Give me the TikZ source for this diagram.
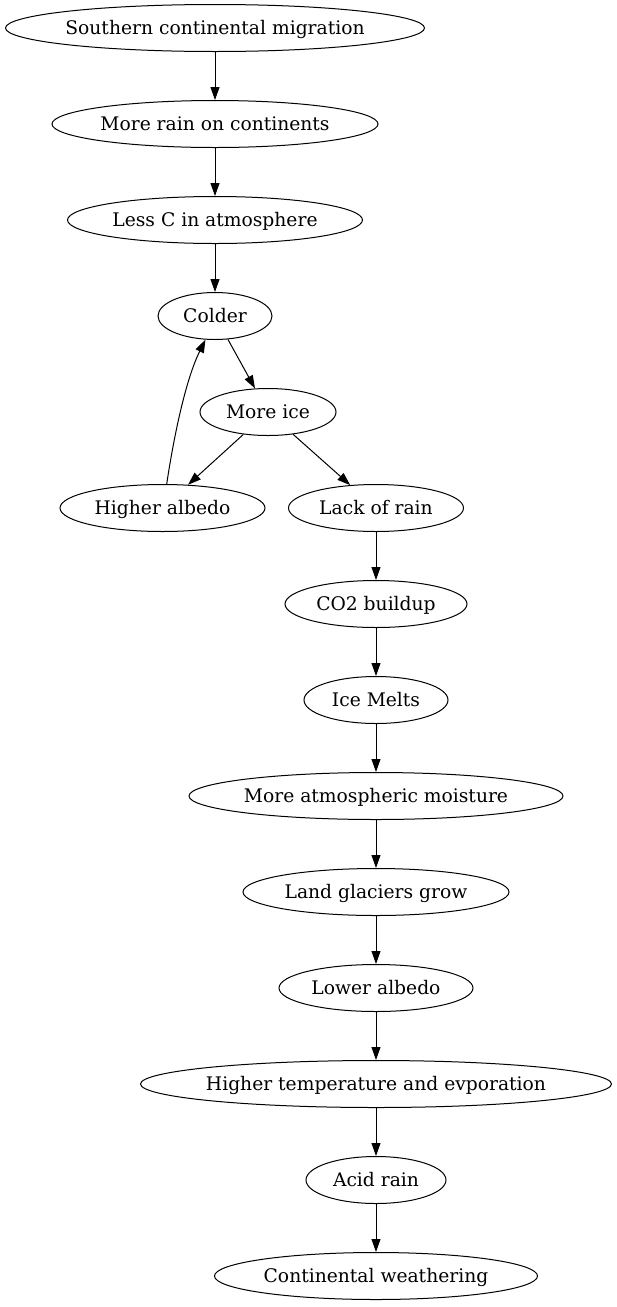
\documentclass[tikz,border=0pt]{standalone}
\usepackage{fontspec}
\setmainfont{DejaVu Serif}
\usetikzlibrary{shapes.geometric,arrows.meta}
\tikzset{
  el/.style={draw, ellipse, inner sep=0pt, minimum height=47pt, line width=1pt,
    text height=12pt, text depth=0pt,
    font=\fontsize{18.7}{22}\selectfont},
  arr/.style={line width=1pt, -{Triangle[length=13pt,width=9pt]}},
}
\newcommand{\nt}[1]{\makebox[0pt]{#1}}
\begin{document}
\begin{tikzpicture}[x=1pt,y=-1pt]
\useasboundingbox (0,0) rectangle (617,1307);
\node[el, minimum width=419pt] (s)  at (215,28)   {\nt{Southern continental migration}};
\node[el, minimum width=326pt] (r)  at (215,124)  {\nt{More rain on continents}};
\node[el, minimum width=295pt] (lc) at (215,220)  {\nt{Less C in atmosphere}};
\node[el, minimum width=114pt] (c)  at (215,316)  {\nt{Colder}};
\node[el, minimum width=136pt] (mi) at (268,412)  {\nt{More ice}};
\node[el, minimum width=205pt] (ha) at (162.5,508) {\nt{Higher albedo}};
\node[el, minimum width=175pt] (lr) at (376,508)  {\nt{Lack of rain}};
\node[el, minimum width=182pt] (co) at (376,604)  {\nt{CO2 buildup}};
\node[el, minimum width=144pt] (im) at (376,700)  {\nt{Ice Melts}};
\node[el, minimum width=374pt] (am) at (376,796)  {\nt{More atmospheric moisture}};
\node[el, minimum width=266pt] (lg) at (376,892)  {\nt{Land glaciers grow}};
\node[el, minimum width=194pt] (la) at (376,988)  {\nt{Lower albedo}};
\node[el, minimum width=471pt] (ht) at (376,1084) {\nt{Higher temperature and evporation}};
\node[el, minimum width=140pt] (ar) at (376,1180) {\nt{Acid rain}};
\node[el, minimum width=323pt] (cw) at (376,1276) {\nt{Continental weathering}};
\draw[arr] (s) -- (r);
\draw[arr] (r) -- (lc);
\draw[arr] (lc) -- (c);
\draw[arr] (c) -- (mi);
\draw[arr] (mi) -- (ha);
\draw[arr] (mi) -- (lr);
\draw[arr] (ha.80) .. controls (171,455) and (183,385) .. (c.248);
\draw[arr] (lr) -- (co);
\draw[arr] (co) -- (im);
\draw[arr] (im) -- (am);
\draw[arr] (am) -- (lg);
\draw[arr] (lg) -- (la);
\draw[arr] (la) -- (ht);
\draw[arr] (ht) -- (ar);
\draw[arr] (ar) -- (cw);
\end{tikzpicture}
\end{document}
